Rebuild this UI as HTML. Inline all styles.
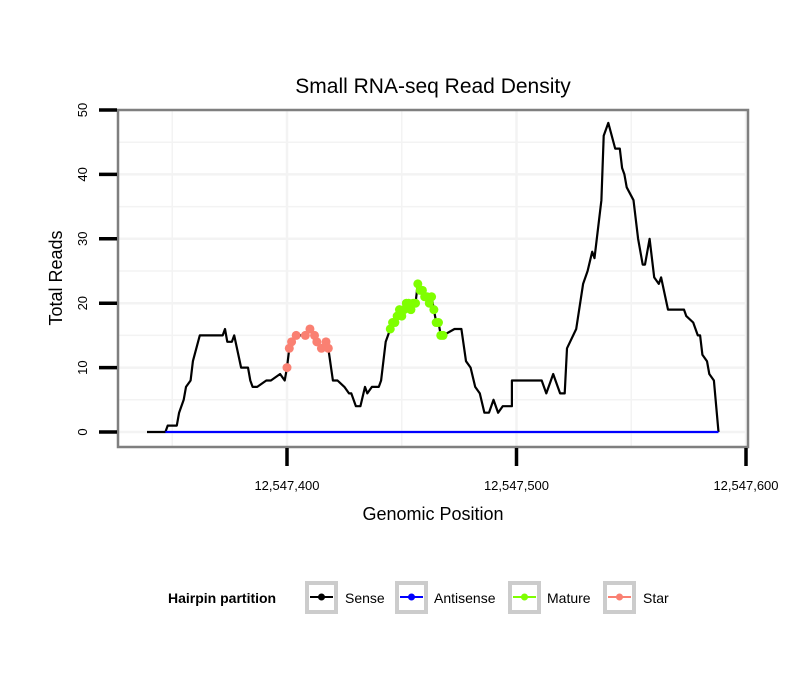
<!DOCTYPE html>
<html><head><meta charset="utf-8"><style>
body{margin:0;background:#fff;}
svg{display:block;font-family:"Liberation Sans",Arial,sans-serif;}
</style></head><body>
<svg id="chart" width="810" height="690" viewBox="0 0 810 690">
<rect x="0" y="0" width="810" height="690" fill="#fff"/>
<text x="433" y="93" font-size="21" text-anchor="middle" fill="#000">Small RNA-seq Read Density</text>
<g id="grid"></g>
<g id="series"></g>
<rect x="118" y="110" width="630" height="337" fill="none" stroke="#7f7f7f" stroke-width="2.5"/>
<g id="axes"></g>
<text x="433" y="520" font-size="18" text-anchor="middle">Genomic Position</text>
<text transform="translate(62,278) rotate(-90)" font-size="18" text-anchor="middle">Total Reads</text>
<g>
<text x="168" y="603" font-size="14" font-weight="bold">Hairpin partition</text>
<g><rect x="307" y="583" width="29" height="29" fill="#fff" stroke="#cccccc" stroke-width="4"/><line x1="310" y1="597" x2="333" y2="597" stroke="#000" stroke-width="2"/><circle cx="321.5" cy="597" r="3.5" fill="#000"/><text x="345" y="603" font-size="14">Sense</text></g>
<g><rect x="397" y="583" width="29" height="29" fill="#fff" stroke="#cccccc" stroke-width="4"/><line x1="400" y1="597" x2="423" y2="597" stroke="#0000ff" stroke-width="2"/><circle cx="411.5" cy="597" r="3.5" fill="#0000ff"/><text x="434" y="603" font-size="14">Antisense</text></g>
<g><rect x="510" y="583" width="29" height="29" fill="#fff" stroke="#cccccc" stroke-width="4"/><line x1="513" y1="597" x2="536" y2="597" stroke="#7fff00" stroke-width="2"/><circle cx="524.5" cy="597" r="3.5" fill="#7fff00"/><text x="547" y="603" font-size="14">Mature</text></g>
<g><rect x="605" y="583" width="29" height="29" fill="#fff" stroke="#cccccc" stroke-width="4"/><line x1="608" y1="597" x2="631" y2="597" stroke="#fa8072" stroke-width="2"/><circle cx="619.5" cy="597" r="3.5" fill="#fa8072"/><text x="643" y="603" font-size="14">Star</text></g>
</g>
</svg>
<script>
const BASE = 12547000;
const senseOffsets = [339,347,348,352,353,355,356,358,359,362,372,373,374,376,377,380,383,384,385,387,391,393,397,399,
 400,401,402,404,408,410,412,413,415,417,418,
 420,422,425,427,428,430,432,434,435,437,440,441,443,
 445,446,447,448,449,450,451,452,453,454,455,456,457,458,459,460,461,462,463,464,465,466,467,468,
 473,476,478,480,482,484,486,488,490,492,494,498,498,511,513,515,516,517,519,521,522,526,529,531,533,534,536,537,538,540,543,545,546,547,548,551,553,555,556,558,560,562,563,566,573,574,577,579,580,581,583,584,586,588];
const senseReads = [0,0,1,1,3,5,7,8,11,15,15,16,14,14,15,10,10,8,7,7,8,8,9,8,
 10,13,14,15,15,16,15,14,13,14,13,
 8,8,7,6,6,4,4,7,6,7,7,8,14,
 16,17,17,18,19,18,19,20,20,19,20,20,23,22,22,21,21,20,21,19,17,17,15,15,
 16,16,11,10,7,6,3,3,5,3,4,4,8,8,6,8,9,8,6,6,13,16,23,25,28,27,33,36,46,48,44,44,41,40,38,36,30,26,26,30,24,23,24,19,19,18,17,15,15,12,11,9,8,0];
const starOffsets = [400,401,402,404,408,410,412,413,415,417,418];
const starReads = [10,13,14,15,15,16,15,14,13,14,13];
const matureOffsets = [445,446,447,448,449,450,451,452,453,454,455,456,457,458,459,460,461,462,463,464,465,466,467,468];
const matureReads = [16,17,17,18,19,18,19,20,20,19,20,20,23,22,22,21,21,20,21,19,17,17,15,15];
const antisenseOffsets = [347,588];
const antisenseReads = [0,0];
const xTicks = [12547400,12547500,12547600];
const xTickLabels = ["12,547,400","12,547,500","12,547,600"];
const yTicks = [0,10,20,30,40,50];

const NS='http://www.w3.org/2000/svg';
function X(p){return 287+(p-12547400)*2.295;}
function Y(v){return 432-v*6.44;}
function mk(tag,attrs,parent){const e=document.createElementNS(NS,tag);for(const k in attrs)e.setAttribute(k,attrs[k]);parent.appendChild(e);return e;}
const grid=document.getElementById('grid'),series=document.getElementById('series'),axes=document.getElementById('axes');
for(let v=-5;v<=55;v+=5){const y=Y(v);if(y<111||y>446)continue;
 const l=mk('line',{x1:119,x2:747,y1:y,y2:y,stroke:'#f3f3f3','stroke-width':v%10===0?2.5:1.5},grid);
 
 }
for(let p=12547350;p<=12547600;p+=50){const x=X(p);if(x<119||x>747)continue;
 const l=mk('line',{x1:x,x2:x,y1:111,y2:446,stroke:'#f3f3f3','stroke-width':(p%100===0)?2.5:1.5},grid);
 
 }
function pts(offs,vals){return offs.map((o,i)=>X(BASE+o).toFixed(1)+','+Y(vals[i]).toFixed(1)).join(' ');}
const sl=mk('polyline',{points:pts(senseOffsets,senseReads),fill:'none',stroke:'#000','stroke-width':2.2,'stroke-linejoin':'round'},series);


const al=mk('polyline',{points:pts(antisenseOffsets,antisenseReads),fill:'none',stroke:'#0000ff','stroke-width':2.2},series);


starOffsets.forEach((o,i)=>{const c=mk('circle',{cx:X(BASE+o),cy:Y(starReads[i]),r:4.5,fill:'#fa8072'},series);
 
 });
matureOffsets.forEach((o,i)=>{const c=mk('circle',{cx:X(BASE+o),cy:Y(matureReads[i]),r:4.5,fill:'#7fff00'},series);
 
 });
yTicks.forEach(v=>{const y=Y(v);
 const t=mk('line',{x1:99,x2:117,y1:y,y2:y,stroke:'#000','stroke-width':3.5},axes);
 
 
 const tx=mk('text',{transform:`translate(87,${y}) rotate(-90)`,'font-size':13,'text-anchor':'middle'},axes);
 tx.textContent=String(v);
 
 });
xTicks.forEach((p,i)=>{const x=X(p);
 const t=mk('line',{x1:x,x2:x,y1:448,y2:466,stroke:'#000','stroke-width':3.5},axes);
 
 
 const tx=mk('text',{x:x,y:490,'font-size':13,'text-anchor':'middle'},axes);
 tx.textContent=xTickLabels[i];
 
 });
</script>
</body></html>
